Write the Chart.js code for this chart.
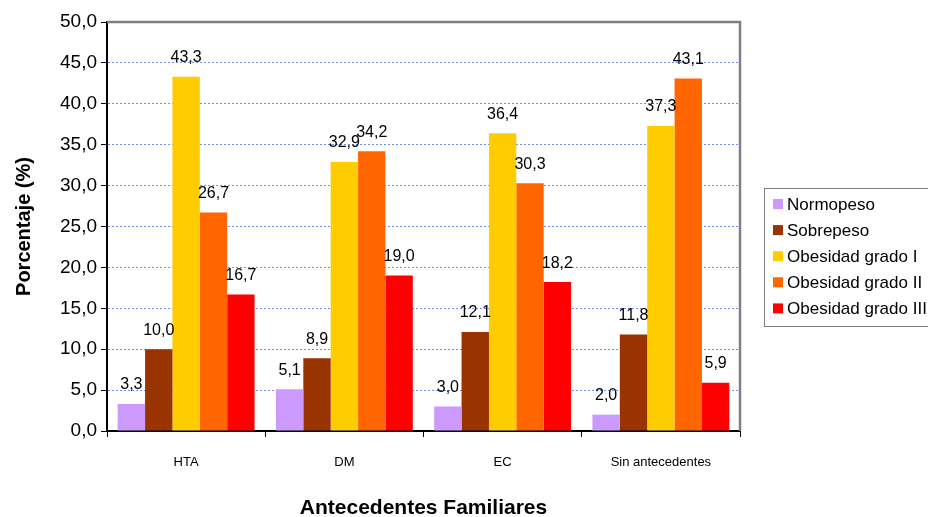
<!DOCTYPE html>
<html>
<head>
<meta charset="utf-8">
<script src="https://cdn.jsdelivr.net/npm/chart.js@4/dist/chart.umd.min.js"></script>
<style>
  html, body { margin: 0; padding: 0; background: #fff; }
  #wrap { width: 928px; height: 517px; position: relative; }
</style>
</head>
<body>
<div id="wrap"><canvas id="c" width="928" height="517"></canvas></div>
<script>
const categories = ['HTA', 'DM', 'EC', 'Sin antecedentes'];
const seriesNames = ['Normopeso', 'Sobrepeso', 'Obesidad grado I', 'Obesidad grado II', 'Obesidad grado III'];
const normopeso = [3.3, 5.1, 3.0, 2.0];
const sobrepeso = [10.0, 8.9, 12.1, 11.8];
const obesidad1 = [43.3, 32.9, 36.4, 37.3];
const obesidad2 = [26.7, 34.2, 30.3, 43.1];
const obesidad3 = [16.7, 19.0, 18.2, 5.9];
const seriesColors = ['#CC99FF', '#993300', '#FFCC00', '#FF6600', '#FF0000'];

const FONT = "Arial, 'Liberation Sans', sans-serif";
const fmt = v => v.toFixed(1).replace('.', ',');

const seriesValues = [normopeso, sobrepeso, obesidad1, obesidad2, obesidad3];

// Value labels above each bar
const valueLabels = {
  id: 'valueLabels',
  afterDatasetsDraw(chart) {
    const ctx = chart.ctx;
    ctx.save();
    ctx.font = '16px ' + FONT;
    ctx.fillStyle = '#000';
    ctx.textAlign = 'center';
    ctx.textBaseline = 'middle';
    chart.data.datasets.forEach((ds, i) => {
      chart.getDatasetMeta(i).data.forEach((bar, j) => {
        ctx.fillText(fmt(ds.data[j]), bar.x, bar.y - 19);
      });
    });
    ctx.restore();
  }
};

// Grey frame on top and right of plot area, plus boxed legend
const frameAndLegend = {
  id: 'frameAndLegend',
  afterDraw(chart) {
    const ctx = chart.ctx;
    const a = chart.chartArea;
    ctx.save();
    ctx.strokeStyle = '#808080';
    ctx.lineWidth = 2.5;
    ctx.beginPath();
    ctx.moveTo(a.left, a.top);
    ctx.lineTo(a.right, a.top);
    ctx.lineTo(a.right, a.bottom);
    ctx.stroke();

    // legend box
    const lx = 764, ly = 188, lw = 170, lh = 138;
    ctx.strokeStyle = '#808080';
    ctx.lineWidth = 1;
    ctx.strokeRect(lx + 0.5, ly + 0.5, lw, lh);
    ctx.font = '17px ' + FONT;
    ctx.textBaseline = 'middle';
    ctx.textAlign = 'left';
    chart.data.datasets.forEach((ds, i) => {
      const cy = ly + 16 + i * 26.1;
      ctx.fillStyle = ds.backgroundColor;
      ctx.fillRect(lx + 9, cy - 5, 10, 10);
      ctx.fillStyle = '#000';
      ctx.fillText(ds.label, lx + 23, cy + 1);
    });
    ctx.restore();
  }
};

new Chart(document.getElementById('c'), {
  type: 'bar',
  data: {
    labels: categories,
    datasets: seriesNames.map((name, i) => ({
      label: name,
      data: seriesValues[i],
      backgroundColor: seriesColors[i],
      borderWidth: 0,
      categoryPercentage: 0.865,
      barPercentage: 1.0
    }))
  },
  options: {
    responsive: false,
    animation: false,
    layout: { padding: { top: 22, right: 188, left: 0, bottom: 0 } },
    plugins: {
      legend: { display: false },
      tooltip: { enabled: false }
    },
    scales: {
      x: {
        grid: {
          display: true,
          drawOnChartArea: false,
          drawTicks: true,
          tickLength: 6,
          offset: true,
          color: '#000'
        },
        border: { display: true, color: '#000', width: 2 },
        ticks: {
          color: '#000',
          font: { family: FONT, size: 13 },
          padding: 18
        },
        title: {
          display: true,
          text: 'Antecedentes Familiares',
          color: '#000',
          font: { family: FONT, size: 21, weight: 'bold', lineHeight: 0.85 },
          padding: { top: 0, bottom: 0 }
        },
        afterFit(scale) { scale.height = 86; }
      },
      y: {
        min: 0,
        max: 50,
        ticks: {
          stepSize: 5,
          color: '#000',
          font: { family: FONT, size: 19 },
          padding: 4,
          callback: v => fmt(v)
        },
        grid: {
          color: '#6f8ff0',
          lineWidth: 1,
          tickLength: 6,
          tickColor: '#000'
        },
        border: { display: true, color: '#000', width: 2, dash: [2, 2] },
        title: {
          display: true,
          text: 'Porcentaje (%)',
          color: '#000',
          font: { family: FONT, size: 20, weight: 'bold' },
          padding: { top: 12, bottom: 0 }
        },
        afterFit(scale) { scale.width = 107; }
      }
    }
  },
  plugins: [valueLabels, frameAndLegend]
});
</script>
</body>
</html>
